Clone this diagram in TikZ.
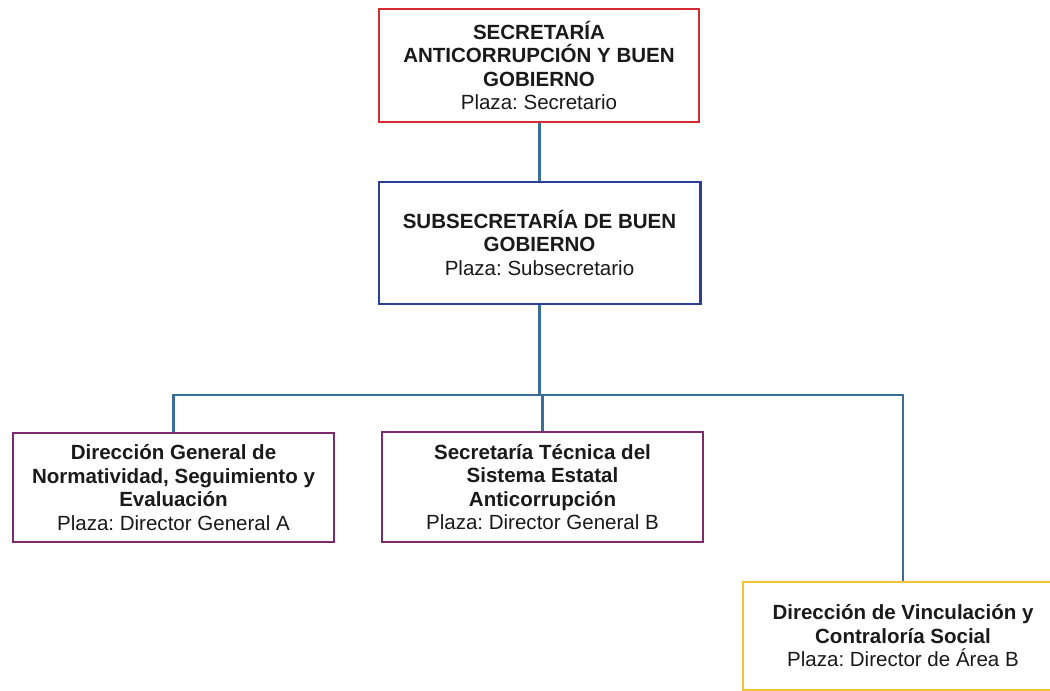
\documentclass[tikz,border=0pt]{standalone}
\usepackage{fontspec}
\setmainfont{Liberation Sans}
\frenchspacing
\definecolor{cred}{HTML}{D62A34}
\definecolor{cblue}{HTML}{2C3F96}
\definecolor{cpurple}{HTML}{7E2A6C}
\definecolor{cyellow}{HTML}{F1C233}
\definecolor{cline}{HTML}{3B6E96}
\definecolor{ctext}{HTML}{1A1A1A}
\begin{document}
\begin{tikzpicture}[x=0.75pt,y=-0.75pt,
  orgbox/.style={draw, line width=2pt, fill=white, rectangle, align=center,
    inner sep=0pt, text=ctext,
    font=\fontsize{15.4pt}{17.6pt}\selectfont},
  conn/.style={draw=cline, line width=1.7pt}]
\useasboundingbox (0,0) rectangle (1050,691);
\clip (0,0) rectangle (1050,691);
\fill[white] (0,0) rectangle (1050,691);

\node[orgbox, draw=cred, minimum width=240pt, minimum height=84.75pt] (sec) at (539,65.5)
  {\textbf{SECRETARÍA}\\\textbf{ANTICORRUPCIÓN Y BUEN}\\\textbf{GOBIERNO}\\Plaza: Secretario};
\node[orgbox, draw=cblue, minimum width=241pt, minimum height=91.5pt] (sub) at (539.5,243)
  {\textbf{SUBSECRETARÍA DE BUEN}\\\textbf{GOBIERNO}\\Plaza: Subsecretario};
\node[orgbox, draw=cpurple, minimum width=240.75pt, minimum height=81.75pt] (dg) at (173.5,487.5)
  {\textbf{Dirección General de}\\\textbf{Normatividad, Seguimiento y}\\\textbf{Evaluación}\\Plaza: Director General A};
\node[orgbox, draw=cpurple, minimum width=240.75pt, minimum height=82.5pt] (st) at (542.5,487)
  {\textbf{Secretaría Técnica del}\\\textbf{Sistema Estatal}\\\textbf{Anticorrupción}\\Plaza: Director General B};
\node[orgbox, draw=cyellow, minimum width=240pt, minimum height=81pt] (dv) at (903,636)
  {\textbf{Dirección de Vinculación y}\\\textbf{Contraloría Social}\\Plaza: Director de Área B};

\coordinate (bus) at (541,395);
\draw[conn] (sec.south -| sub.south) -- (sub.north);
\draw[conn] (sub.south) -- (sub.south |- bus);
\draw[conn] (dg.north) -- (dg.north |- bus) -- (dv.north |- bus) -- (dv.north);
\draw[conn] (st.north) -- (st.north |- bus);
\end{tikzpicture}
\end{document}
